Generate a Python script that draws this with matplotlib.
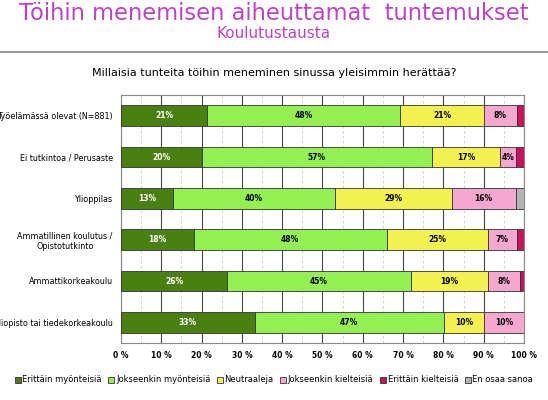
import numpy as np
from matplotlib import pyplot as plt
from matplotlib.ticker import MultipleLocator

groups = ['Työelämässä olevat (N=881)', 'Ei tutkintoa / Perusaste', 'Ylioppilas',
          'Ammatillinen koulutus /\nOpistotutkinto', 'Ammattikorkeakoulu',
          'Yliopisto tai tiedekorkeakoulu']
categories = ['Erittäin myönteisiä', 'Jokseenkin myönteisiä', 'Neutraaleja',
              'Jokseenkin kielteisiä', 'Erittäin kielteisiä', 'En osaa sanoa']
shown = [[21, 48, 21, 8, 1, 0],
         [20, 57, 17, 4, 2, 0],
         [13, 40, 29, 16, 0, 2],
         [18, 48, 25, 7, 2, 0],
         [26, 45, 19, 8, 1, 0],
         [33, 47, 10, 10, 0, 0]]
# segment widths
widths = [[21.4, 47.9, 20.8, 8.1, 1.8, 0.0],
          [20.0, 57.2, 16.8, 4.0, 2.0, 0.0],
          [13.0, 40.1, 29.0, 15.8, 0.0, 2.1],
          [18.0, 48.0, 25.1, 7.1, 1.8, 0.0],
          [26.3, 45.6, 19.1, 8.1, 0.9, 0.0],
          [33.2, 46.9, 10.0, 9.9, 0.0, 0.0]]
colors = ['#4a7f12', '#94ef52', '#f2f150', '#f5a8cf', '#c8125c', '#b4b4b4']
text_colors = ['white', 'black', 'black', 'black', 'white', 'black']

fig = plt.figure(figsize=(5.48, 4.0), dpi=100)
ax = fig.add_axes([0.2208, 0.1425, 0.7354, 0.62])

w = np.array(widths)
y = np.arange(len(groups))
left = np.zeros(len(groups))
for j, cat in enumerate(categories):
    ax.barh(y, w[:, j], left=left, height=0.5, color=colors[j],
            edgecolor='#333333', linewidth=0.6, label=cat, zorder=3)
    for i in range(len(groups)):
        if shown[i][j] >= 4:
            ax.text(left[i] + w[i, j] / 2, y[i], f'{shown[i][j]}%', ha='center',
                    va='center', fontsize=5.5, fontweight='bold',
                    color=text_colors[j], zorder=4)
    left += w[:, j]

ax.set_xlim(0, 100)
ax.set_ylim(len(groups) - 0.5, -0.5)
ax.set_yticks(y)
ax.set_yticklabels(groups, fontsize=5.8, multialignment='center')
ax.xaxis.set_minor_locator(MultipleLocator(5))
ax.set_xticks(np.arange(0, 101, 10))
ax.set_xticklabels([f'{v} %' for v in range(0, 101, 10)], fontsize=5.5, fontweight='bold')
ax.tick_params(axis='both', length=0, pad=6)
ax.tick_params(axis='x', which='minor', length=0)
ax.grid(axis='x', which='major', color='#444444', linewidth=0.8, zorder=0)
ax.grid(axis='x', which='minor', color='#c8c8c8', linewidth=0.6, linestyle=(0, (3, 3)), zorder=0)
for s in ax.spines.values():
    s.set_color('#888888')
    s.set_linewidth(0.8)

fig.text(0.5, 0.966, 'Töihin menemisen aiheuttamat  tuntemukset', ha='center', va='center',
         fontsize=16.3, color='#bb44c4')
fig.text(0.5, 0.916, 'Koulutustausta', ha='center', va='center', fontsize=11, color='#bb44c4')
fig.add_artist(plt.Line2D([0, 1], [0.869, 0.869], color='#888888', linewidth=1.2))
fig.text(0.5, 0.818, 'Millaisia tunteita töihin meneminen sinussa yleisimmin herättää?',
         ha='center', va='center', fontsize=8)

fig.legend(loc='center', bbox_to_anchor=(0.5, 0.05), ncol=6, fontsize=6, frameon=False,
           handlelength=0.7, handleheight=0.7, handletextpad=0.2, columnspacing=0.8)

fig.savefig('out.png', dpi=100)
